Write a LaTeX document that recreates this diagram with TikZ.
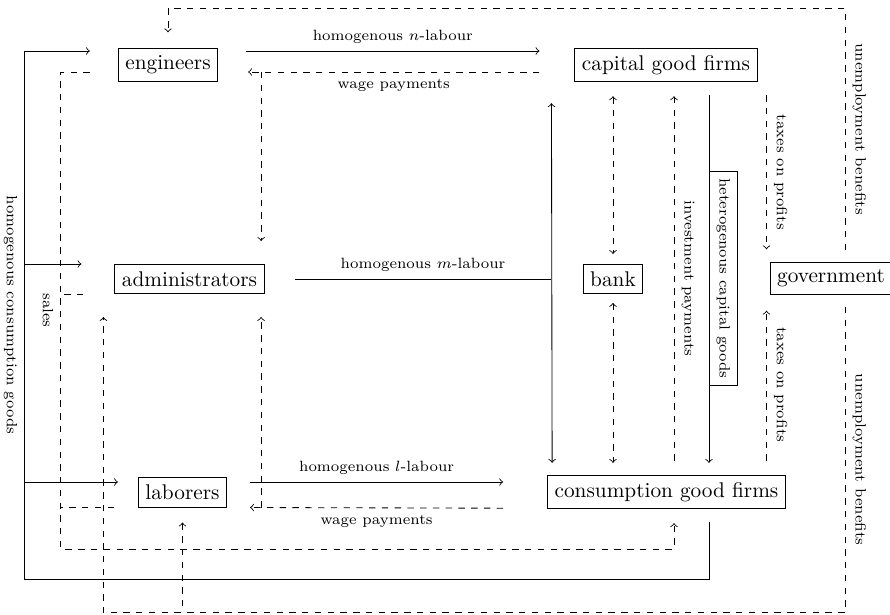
\documentclass[tikz,border=0pt]{standalone}
\usetikzlibrary{calc}
\tikzset{
  box/.style={draw, inner sep=3.33pt},
  lbl/.style={font=\scriptsize},
  vlbl/.style={font=\scriptsize, rotate=-90},
}
\begin{document}
\begin{tikzpicture}[x=0.47pt, y=-0.47pt, >=to, line width=0.4pt]
\useasboundingbox (0,0) rectangle (890,615);
% nodes
\node[box] (eng) at (168,65) {engineers};
\node[box] (adm) at (189.5,279) {administrators};
\node[box] (lab) at (182.5,492.5) {laborers};
\node[box] (cap) at (666,65) {capital good firms};
\node[box] (bank) at (613,279) {bank};
\node[box] (gov) at (831,278.5) {government};
\node[box] (cgf) at (666.5,492) {consumption good firms};

% n-labour and wage payments (top)
\draw[->] ([shift={(28,-14)}]eng.east) -- node[above, lbl]{homogenous $n$-labour} ([shift={(-35,-14)}]cap.west);
\draw[dashed,->] ([shift={(-35,7)}]cap.west) -- node[below, lbl]{wage payments} ([shift={(30,7)}]eng.east);
\coordinate (wt) at ([shift={(43,7)}]eng.east);
\draw[dashed,->,shorten >=10.8pt] (wt) -- (wt |- adm.north);

% unemployment benefits (top)
\draw[dashed,->] ([shift={(14,-12)}]gov.north) -- node[vlbl, anchor=south]{unemployment benefits} ++(0,-242) -| ([shift={(0,-16)}]eng.north);
% unemployment benefits (bottom)
\draw[dashed,->] ([shift={(14,12)}]gov.south) -- node[vlbl, anchor=south]{unemployment benefits} ++(0,306) coordinate (ub) -| ([shift={(-11,23)}]adm.south west);
\draw[dashed,<-] ([shift={(0,15)}]lab.south) -- (lab.south |- ub);

% homogenous consumption goods
\coordinate (hx) at ([shift={(43,0)}]cap.south);
\draw[->, shorten <=6.1pt] (hx |- cgf.south) -- ++(0,70) coordinate (cb) -| ([shift={(-93,-14)}]eng.west) coordinate (lx) -- ([shift={(-28,-14)}]eng.west);
\path (lx) -- node[vlbl, anchor=north]{homogenous consumption goods} (lx |- cb);
\draw[->] (lx |- adm.north) -- ([shift={(-33,0)}]adm.north west);
\coordinate (lt) at ([shift={(-20,-10.5)}]lab.west);
\draw[->] (lx |- lt) -- (lt);

% sales
\draw[dashed,->] ([shift={(-28,7)}]eng.west) -- ++(-29,0) coordinate (sx) -- node[vlbl, anchor=north]{sales} ++(0,477) -| ([shift={(7.5,14)}]cgf.south);
\draw[dashed] ([shift={(-31,0)}]adm.south west) -- (sx |- adm.south west);
\draw[dashed] ([shift={(-24,0)}]lab.south west) -- (sx |- lab.south west);

% m-labour
\draw[<->] ([shift={(-23,21)}]cap.south west) coordinate (mt) -- ([shift={(5,-12)}]cgf.north west);
\draw ([shift={(30,0)}]adm.east) -- node[above, lbl]{homogenous $m$-labour} (mt |- adm.east);

% l-labour and wage payments (bottom)
\draw[->] ([shift={(23,-10.5)}]lab.east) -- node[above, lbl]{homogenous $l$-labour} ([shift={(-44,-10)}]cgf.west);
\draw[dashed,->] ([shift={(-44,-1)}]cgf.south west) -- node[below, lbl]{wage payments} ([shift={(23,0)}]lab.south east);
\coordinate (wb) at ([shift={(34,0)}]lab.south east);
\draw[dashed,->,shorten >=10.8pt] (wb) -- (wb |- adm.south);

% bank
\draw[dashed,<->,shorten <=6.6pt, shorten >=4.7pt] (bank.north |- cap.south) -- (bank.north);
\draw[dashed,<->,shorten <=4.2pt, shorten >=5.6pt] (bank.south) -- (bank.south |- cgf.north);

% investment payments
\coordinate (ix) at ([shift={(8,0)}]cap.south);
\draw[dashed,->,shorten <=6.6pt, shorten >=6.6pt] (ix |- cgf.north) -- node[vlbl, anchor=south]{investment payments} (ix);

% heterogenous capital goods
\draw[->,shorten <=6.1pt, shorten >=5.6pt] (hx) -- node[vlbl, anchor=south, draw]{heterogenous capital goods} (hx |- cgf.north);

% taxes on profits
\coordinate (tx) at ([shift={(9,0)}]cap.south east);
\draw[dashed,->,shorten <=6.1pt, shorten >=6.1pt] (tx) -- node[vlbl, anchor=south]{taxes on profits} (tx |- gov.north);
\draw[dashed,->,shorten <=6.6pt, shorten >=7.5pt] (tx |- cgf.north) -- node[vlbl, anchor=south]{taxes on profits} (tx |- gov.south);
\end{tikzpicture}
\end{document}
